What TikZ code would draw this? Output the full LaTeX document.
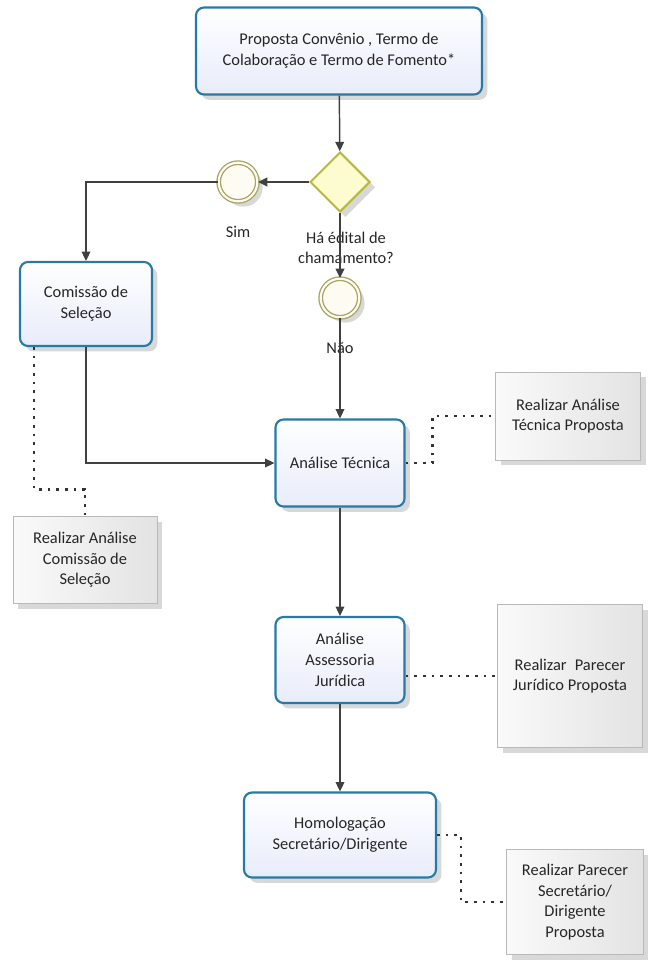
\documentclass[tikz,border=0pt]{standalone}
\usepackage{fontspec}
\setmainfont{Carlito}
\usetikzlibrary{arrows.meta,positioning,shapes.geometric,shadows,calc}
\definecolor{taskblue}{RGB}{38,122,168}
\definecolor{taskfill}{RGB}{232,236,250}
\definecolor{gwline}{RGB}{184,184,64}
\definecolor{gwfill}{RGB}{253,251,208}
\definecolor{evline}{RGB}{168,164,100}
\definecolor{evfill}{RGB}{254,252,242}

\begin{document}
\begin{tikzpicture}[x=0.75pt, y=-0.75pt,
      font=\fontsize{12.3}{15.5}\selectfont,
       arr/.style = {line width=1.1pt, draw=black!75, -{Triangle[length=7pt,width=6.5pt]}},
     assoc/.style = {line width=2pt, dash pattern=on 2pt off 4.5pt, draw=black!80},
       shd/.style = {drop shadow={shadow xshift=4pt, shadow yshift=-4pt,
                                  fill=black!30, opacity=0.5}},
      task/.style = {rectangle, rounded corners=6pt, draw=taskblue, line width=1.6pt,
                     top color=white, bottom color=taskfill, align=center,
                     text=black!85, inner sep=2pt, shd},
      note/.style = {rectangle, draw=gray!55, thin, left color=gray!4,
                     right color=gray!22, align=center, text=black!85,
                     inner sep=2pt, shd},
        gw/.style = {diamond, draw=gwline, line width=1.5pt, fill=gwfill,
                     minimum width=45pt, minimum height=45pt, inner sep=0pt, shd},
        ev/.style = {circle, draw=evline, line width=1pt, double=evfill,
                     double distance=1.6pt, fill=evfill, minimum size=29pt,
                     inner sep=0pt, shd},
       lbl/.style = {align=center, text=black!85, inner sep=1pt},
                            ]
    \useasboundingbox (0,0) rectangle (648,960);
    % tasks
    \node[task, minimum width=214.5pt, minimum height=65.25pt] (prop) at (339,51)
        {Proposta Convênio , Termo de\\Colaboração e Termo de Fomento*};
    \node[task, minimum width=99pt, minimum height=63pt] (com) at (86,304)
        {Comissão de\\Seleção};
    \node[task, minimum width=96.75pt, minimum height=65.25pt] (tec) at (340,463)
        {Análise Técnica};
    \node[task, minimum width=96.75pt, minimum height=64.5pt] (jur) at (340,660)
        {Análise\\Assessoria\\Jurídica};
    \node[task, minimum width=144pt, minimum height=63.75pt] (hom) at (340,835)
        {Homologação\\Secretário/Dirigente};
    % gateway and events
    \node[gw] (gw) at (340,182) {};
    \node[ev] (sim) at (238,182) {};
    \node[ev] (nao) at (340,298) {};
    \node[lbl] (simL) at (238,232) {Sim};
    \node[lbl] (gwL) at (346,248) {Há édital de\\chamamento?};
    \node[lbl] (naoL) at (340,348) {Não};
    % annotations
    \node[note, minimum width=108.75pt, minimum height=66pt] (annTec) at (568,416)
        {Realizar Análise\\Técnica Proposta};
    \node[note, minimum width=108pt, minimum height=65.25pt] (annCom) at (85,560)
        {Realizar Análise\\Comissão de\\Seleção};
    \node[note, minimum width=108.75pt, minimum height=107.25pt] (annJur) at (570,676)
        {Realizar\enspace Parecer\\Jurídico Proposta};
    \node[note, minimum width=102.75pt, minimum height=78.75pt] (annHom) at (575,902)
        {Realizar Parecer\\Secretário/\\Dirigente\\Proposta};
    %% sequence flows
    \draw[arr] (prop) -- (gw);
    \draw[arr] (gw) -- (sim);
    \draw[arr] (sim.west) -| (com.north);
    \draw[arr] (gw) -- (nao);
    \draw[arr] (nao) -- (tec);
    \draw[arr] (com.south) |- (tec.west);
    \draw[arr] (tec) -- (jur);
    \draw[arr] (jur) -- (hom);
    %% associations
    \draw[assoc] (tec.east) -- ++(27,0) |- (annTec.west);
    \draw[assoc] ($(com.south west)+(15,0)$) |- ($(annCom.north)+(0,-27)$) -- (annCom.north);
    \draw[assoc] (jur.east |- annJur.west) -- (annJur.west);
    \draw[assoc] (hom.east) -- ++(24,0) |- (annHom.west);
\end{tikzpicture}
\end{document}
